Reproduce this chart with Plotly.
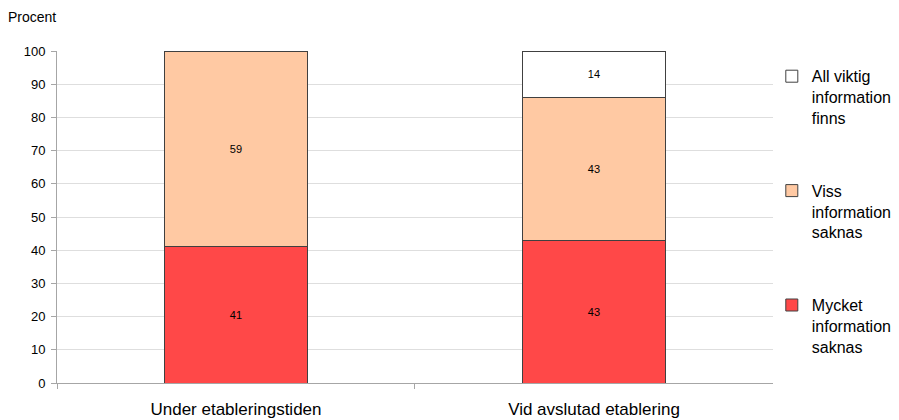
import plotly.graph_objects as go

categories = ["Under etableringstiden", "Vid avslutad etablering"]
series_names = ["Mycket<br>information<br>saknas", "Viss<br>information<br>saknas", "All viktig<br>information<br>finns"]
mycket = [41, 43]
viss = [59, 43]
all_info = [0, 14]
colors = ["#FF4848", "#FFC9A3", "#FFFFFF"]
legend_ranks = [3, 2, 1]
y_ticks = list(range(0, 101, 10))

fig = go.Figure()
for name, vals, col, rank in zip(series_names, [mycket, viss, all_info], colors, legend_ranks):
    fig.add_trace(go.Bar(
        x=categories, y=vals, name=name, legendgroup=name, legendrank=rank,
        marker=dict(color=col, line=dict(color="#404040", width=1)),
        text=[str(v) if v else "" for v in vals],
        textposition="inside", insidetextanchor="middle",
        textfont=dict(size=11, color="black", family="Liberation Sans"),
        width=0.4,
    ))

fig.update_layout(
    barmode="stack",
    width=899, height=420,
    margin=dict(l=57, r=5, t=51, b=37, autoexpand=False),
    paper_bgcolor="white", plot_bgcolor="white",
    font=dict(family="Liberation Sans, Arial, sans-serif", color="black"),
    showlegend=True,
    legend=dict(
        x=0.854, y=0.975, xanchor="left", yanchor="top",
        traceorder="grouped", tracegroupgap=49, valign="top",
        font=dict(size=16, color="black"),
        itemwidth=30, bgcolor="rgba(0,0,0,0)",
    ),
    xaxis=dict(
        domain=[0, 0.8554],
        showline=True, linecolor="#A6A6A6", linewidth=1,
        ticks="outside", tickson="boundaries", ticklen=5, tickcolor="#A6A6A6",
        tickfont=dict(size=17), showgrid=False, ticklabelstandoff=11,
    ),
    yaxis=dict(
        range=[0, 100], tickvals=y_ticks, showline=True, linecolor="#A6A6A6",
        ticks="outside", ticklen=5, tickcolor="#A6A6A6",
        gridcolor="#DEDEDE", tickfont=dict(size=13), zeroline=False,
        ticklabelstandoff=3,
    ),
    annotations=[dict(
        text="Procent", xref="paper", yref="paper",
        x=-0.061, y=1.103, xanchor="left", yanchor="middle",
        showarrow=False, font=dict(size=14),
    )],
)

fig.write_html("out.html", config={"displayModeBar": False},
               post_script="document.body.style.margin='0';")
